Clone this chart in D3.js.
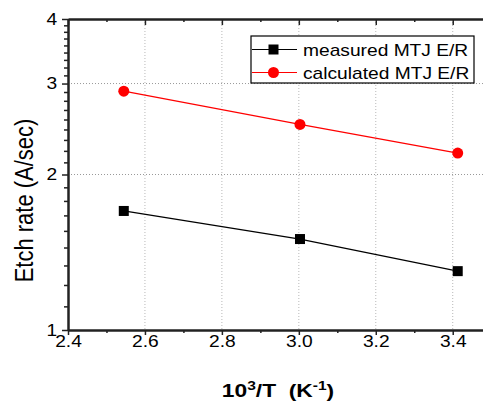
<!DOCTYPE html>
<html>
<head>
<meta charset="utf-8">
<script src="https://cdn.jsdelivr.net/npm/d3@7"></script>
<style>
  body { margin: 0; background: #fff; }
  svg { font-family: "Liberation Sans", Arial, sans-serif; }
</style>
</head>
<body>
<div id="chart"></div>
<script>
// data
let invTemp = [2.545, 3.003, 3.413];           // 10^3/T (K^-1)
let measured = [1.70, 1.50, 1.30];             // measured MTJ E/R
let calculated = [2.90, 2.50, 2.20];           // calculated MTJ E/R
let seriesNames = ['measured MTJ E/R', 'calculated MTJ E/R'];
let xTicks = [2.4, 2.6, 2.8, 3.0, 3.2, 3.4];
let xMinorTicks = [2.5, 2.7, 2.9, 3.1, 3.3];
let yTicks = [1, 2, 3, 4];
let xGrid = [2.6, 2.8, 3.0, 3.2, 3.4];
let yGrid = [2, 3];

let width = 483;
let height = 401;
let stretch = 1.2;   // text in the original is drawn a bit wide

let plotLeft = 68, plotRight = 483.5, plotTop = 19, plotBottom = 330;

let svg = d3.select('#chart').append('svg')
  .attr('width', width)
  .attr('height', height);

let x = d3.scaleLinear().domain([2.4, 3.48]).range([plotLeft, plotRight]);
let y = d3.scaleLog().domain([1, 4]).range([plotBottom, plotTop]);

// minor ticks on the log axis: 8 even steps inside each major interval
let yMinorTicks = [];
for (let k = 1; k < 4; k++) {
  for (let j = 1; j < 9; j++) yMinorTicks.push(k + j / 9);
}

// grid
svg.append('g').selectAll('line').data(xGrid).enter().append('line')
  .attr('x1', d => x(d)).attr('x2', d => x(d))
  .attr('y1', plotTop).attr('y2', plotBottom)
  .style('stroke', '#b8b8b8').style('stroke-dasharray', '1,2');
svg.append('g').selectAll('line').data(yGrid).enter().append('line')
  .attr('x1', plotLeft).attr('x2', plotRight)
  .attr('y1', d => y(d)).attr('y2', d => y(d))
  .style('stroke', '#999').style('stroke-dasharray', '1,2');

// axes
let axisColor = '#222';
function styleAxis(g) {
  g.attr('font-family', null).attr('font-size', null);
  g.select('.domain').style('stroke', axisColor).style('stroke-width', 2);
  g.selectAll('.tick line').style('stroke', axisColor).style('stroke-width', 1.5);
  g.selectAll('text').style('font-size', '16px').style('fill', '#000')
    .attr('transform', `scale(${stretch},1)`);
}

svg.append('g').attr('transform', `translate(0,${plotBottom})`)
  .call(d3.axisBottom(x).tickValues(xMinorTicks).tickSize(3).tickSizeOuter(0).tickFormat(''))
  .call(styleAxis);
svg.append('g').attr('transform', `translate(0,${plotBottom})`)
  .call(d3.axisBottom(x).tickValues(xTicks).tickSize(5).tickSizeOuter(0)
    .tickPadding(0.5).tickFormat(d3.format('.1f')))
  .call(styleAxis);

svg.append('g').attr('transform', `translate(0,${plotTop})`)
  .call(d3.axisTop(x).tickValues(xMinorTicks).tickSize(-3).tickSizeOuter(0).tickFormat(''))
  .call(styleAxis);
svg.append('g').attr('transform', `translate(0,${plotTop})`)
  .call(d3.axisTop(x).tickValues(xTicks).tickSize(-6).tickSizeOuter(0).tickFormat(''))
  .call(styleAxis);

svg.append('g').attr('transform', `translate(${plotLeft},0)`)
  .call(d3.axisLeft(y).tickValues(yMinorTicks).tickSize(4).tickSizeOuter(0).tickFormat(''))
  .call(styleAxis);
svg.append('g').attr('transform', `translate(${plotLeft},0)`)
  .call(d3.axisLeft(y).tickValues(yTicks).tickSize(6).tickSizeOuter(0)
    .tickPadding(3).tickFormat(d3.format('d')))
  .call(styleAxis);

// axis titles
let xTitle = svg.append('text')
  .attr('transform', `translate(278,397) scale(${stretch},1)`)
  .attr('text-anchor', 'middle')
  .style('font-size', '19px').style('font-weight', 'bold');
xTitle.append('tspan').text('10');
xTitle.append('tspan').attr('dy', -7).style('font-size', '13px').text('3');
xTitle.append('tspan').attr('dy', 7).text('/T\u00a0\u00a0(K');
xTitle.append('tspan').attr('dy', -7).style('font-size', '13px').text('-1');
xTitle.append('tspan').attr('dy', 7).text(')');

svg.append('text')
  .attr('transform', `translate(33,200.5) rotate(-90) scale(1,${stretch})`)
  .attr('text-anchor', 'middle')
  .style('font-size', '22px')
  .text('Etch rate (A/sec)');

// series
let line = d3.line().x(d => x(d[0])).y(d => y(d[1]));

let measuredPts = invTemp.map((t, i) => [t, measured[i]]);
let calculatedPts = invTemp.map((t, i) => [t, calculated[i]]);

svg.append('path').datum(measuredPts).attr('d', line)
  .style('fill', 'none').style('stroke', '#000').style('stroke-width', 1.2);
svg.append('g').selectAll('rect').data(measuredPts).enter().append('rect')
  .attr('x', d => x(d[0]) - 5).attr('y', d => y(d[1]) - 5)
  .attr('width', 10).attr('height', 10)
  .style('fill', '#000');

svg.append('path').datum(calculatedPts).attr('d', line)
  .style('fill', 'none').style('stroke', '#ff0000').style('stroke-width', 1.2);
svg.append('g').selectAll('circle').data(calculatedPts).enter().append('circle')
  .attr('cx', d => x(d[0])).attr('cy', d => y(d[1]))
  .attr('r', 5.5)
  .style('fill', '#ff0000');

// legend
let legend = svg.append('g').attr('transform', 'translate(251,36)');
legend.append('rect')
  .attr('width', 223).attr('height', 47)
  .style('fill', '#fff').style('stroke', '#000').style('stroke-width', 1.2);

seriesNames.forEach((name, i) => {
  let rowY = 13.5 + i * 23;
  let color = i === 0 ? '#000' : '#ff0000';
  let row = legend.append('g');
  row.append('line')
    .attr('x1', 1).attr('x2', 46).attr('y1', rowY).attr('y2', rowY)
    .style('stroke', color).style('stroke-width', 1.2);
  if (i === 0) {
    row.append('rect').attr('x', 22.5 - 5).attr('y', rowY - 5)
      .attr('width', 10).attr('height', 10).style('fill', color);
  } else {
    row.append('circle').attr('cx', 22.5).attr('cy', rowY).attr('r', 5.5)
      .style('fill', color);
  }
  row.append('text')
    .attr('transform', `translate(52,${rowY + 6}) scale(${stretch},1)`)
    .style('font-size', '16px')
    .text(name);
});
</script>
</body>
</html>
